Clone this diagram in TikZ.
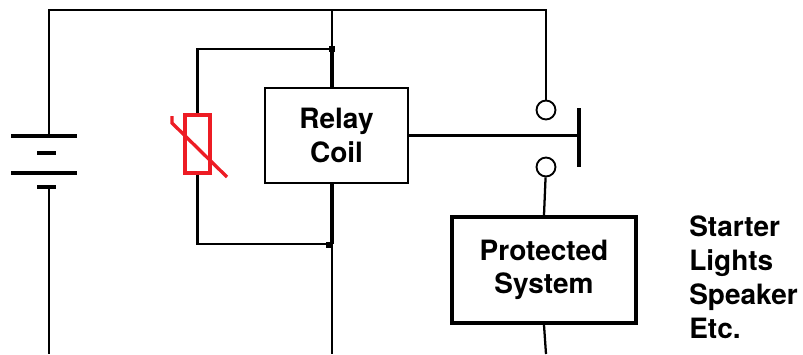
\documentclass[tikz,border=0pt]{standalone}
\usepackage{fontspec}
\setmainfont{TeX Gyre Heros}
\usetikzlibrary{positioning}

\definecolor{ptcred}{RGB}{237,28,36}

\tikzset{
  wire/.style={line width=1.7pt},
  heavy/.style={line width=2.4pt},
  plate/.style={line width=2.5pt},
  box/.style={draw, line width=1.9pt, align=center, inner sep=0pt,
    font=\bfseries\fontsize{21}{25}\selectfont},
  contact/.style={draw, circle, line width=1.4pt, minimum size=14.2pt, inner sep=0pt},
  joint/.style={fill, rectangle, minimum size=4.8pt, inner sep=0pt},
}

\begin{document}
\begin{tikzpicture}[x=0.75pt, y=-0.75pt]
\useasboundingbox (0,0) rectangle (803,354);

% Boxes
\node[box, minimum width=107pt, minimum height=71pt] (relay) at (336.5,135.5) {Relay\\Coil};
\node[box, line width=3pt, minimum width=138pt, minimum height=79.5pt] (prot) at (544,270) {Protected\\System};

% Switch contacts
\node[contact] (c1) at (546,110) {};
\node[contact] (c2) at (546,167) {};

% PTC thermistor
\node[draw=ptcred, line width=2.6pt, minimum width=18.5pt, minimum height=43.5pt, inner sep=0pt] (ptc) at (197.5,144) {};
\draw[ptcred, line width=2.5pt] (172,116) -- (172,123) -- (227,177);

% Corner points
\coordinate (topL) at (49,10);
\coordinate (topM) at (332,10);
\coordinate (topR) at (546,10);
\coordinate (jup) at (332,49);
\coordinate (jlo) at (332,244);
\coordinate (batp) at (49,136);
\coordinate (batn) at (49,187);
\coordinate (botL) at (49,354);
\coordinate (botM) at (332,354);
\coordinate (botR) at (546,354);
\coordinate (barT) at (579,108);
\coordinate (barB) at (579,167);

% Battery
\draw[plate] (11,136) -- (77,136);
\draw[plate] (37,153) -- (56,153);
\draw[plate] (11,173) -- (77,173);
\draw[plate] (37,187) -- (56,187);

% Wires
\draw[wire] (batp) -- (topL) -- (topR) -- (c1);
\draw[wire] (topM) -- (jup);
\draw[heavy] (jup) -- (relay.north -| jup);
\draw[heavy] (relay.south -| jlo) -- (jlo);
\draw[wire] (jlo) -- (botM);
\draw[wire] (batn) -- (botL);
\draw[wire] (jup) -| (ptc.north);
\draw[wire] (ptc.south) |- (jlo);
\draw[wire] (c2) -- (prot.north);
\draw[wire] (prot.south) -- (botR);
\draw[wire] (relay.east) -- (relay.east -| barT);
\draw[heavy] (barT) -- (barB);

% Junctions
\node[joint] at (jup) {};
\node[joint, minimum size=5.2pt] at (329,245) {};

% Loads
\node[align=left, anchor=base west, inner sep=0pt, font=\bfseries\fontsize{21}{25.5}\selectfont] (loads) at (689,338) {Starter\\Lights\\Speaker\\Etc.};
\end{tikzpicture}
\end{document}
